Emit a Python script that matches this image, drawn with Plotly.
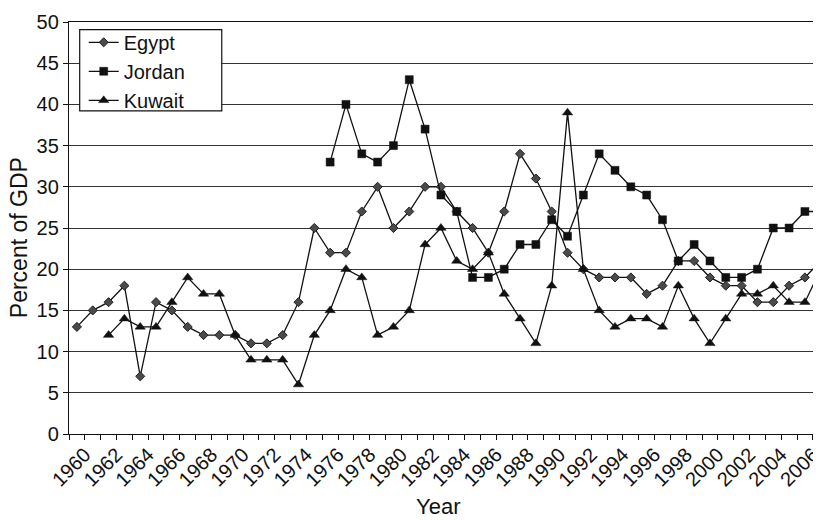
import plotly.graph_objects as go

years = list(range(1960, 2008))

egypt = [13, 15, 16, 18, 7, 16, 15, 13, 12, 12, 12, 11, 11, 12, 16, 25, 22, 22, 27, 30,
         25, 27, 30, 30, 27, 25, 22, 27, 34, 31, 27, 22, 20, 19, 19, 19, 17, 18, 21, 21,
         19, 18, 18, 16, 16, 18, 19, 21]

jordan_years = list(range(1976, 2008))
jordan = [33, 40, 34, 33, 35, 43, 37, 29, 27, 19, 19, 20, 23, 23, 26, 24, 29, 34, 32, 30,
          29, 26, 21, 23, 21, 19, 19, 20, 25, 25, 27, 27]

kuwait_years = list(range(1962, 2008))
kuwait = [12, 14, 13, 13, 16, 19, 17, 17, 12, 9, 9, 9, 6, 12, 15, 20, 19, 12, 13, 15,
          23, 25, 21, 20, 22, 17, 14, 11, 18, 39, 20, 15, 13, 14, 14, 13, 18, 14, 11, 14,
          17, 17, 18, 16, 16, 20]

tick_years = list(range(1960, 2007, 2))
tick_labels = [str(y) for y in tick_years]
y_ticks = list(range(0, 51, 5))

FONT = "Liberation Sans, Arial, sans-serif"

# page body has an 8px margin: work in page pixels and subtract it
OFF = 8
W, H = 821 - OFF, 520 - OFF
L, T = 69.3 - OFF, 21.7 - OFF
BOT = 434.3 - OFF
PW, PH = W - L, BOT - T


def px(xp):
    return (xp - OFF - L) / PW


def py(yp):
    return (BOT - (yp - OFF)) / PH


fig = go.Figure()
fig.add_trace(go.Scatter(
    x=years, y=egypt, name="Egypt", mode="lines+markers",
    line=dict(color="#111111", width=1.3),
    marker=dict(symbol="diamond", size=7, color="#4a4a4a",
                line=dict(color="#222222", width=1)),
    cliponaxis=False))
fig.add_trace(go.Scatter(
    x=jordan_years, y=jordan, name="Jordan", mode="lines+markers",
    line=dict(color="#111111", width=1.3),
    marker=dict(symbol="square", size=8, color="#111111",
                line=dict(color="#111111", width=0.5)),
    cliponaxis=False))
fig.add_trace(go.Scatter(
    x=kuwait_years, y=kuwait, name="Kuwait", mode="lines+markers",
    line=dict(color="#111111", width=1.3),
    marker=dict(symbol="triangle-up", size=9, color="#111111",
                line=dict(color="#111111", width=0.5)),
    cliponaxis=False))

fig.update_layout(
    width=W, height=H,
    margin=dict(l=L, r=0, t=T, b=H - BOT, pad=0, autoexpand=False),
    plot_bgcolor="white", paper_bgcolor="white",
    font=dict(family=FONT, size=20, color="#111111"),
    showlegend=True,
    legend=dict(x=px(84), y=py(22.5), xanchor="left", yanchor="top",
                bgcolor="rgba(0,0,0,0)", borderwidth=0,
                font=dict(size=20, family=FONT, color="#111111"),
                tracegroupgap=0, itemwidth=30),
    xaxis=dict(
        range=[1959.5, 1959.5 + PW / 15.82], automargin=False,
        tickmode="array", tickvals=[y + 0.5 for y in tick_years], ticktext=tick_labels,
        tickangle=-45, ticks="", ticklen=0, ticklabeloverflow="allow",
        tickfont=dict(size=20, family=FONT, color="#111111"),
        showgrid=False, zeroline=False,
        showline=True, linecolor="#111111", linewidth=1.3, mirror=True,
        minor=dict(tickmode="array", tickvals=[y - 0.5 for y in years] + [2007.5],
                   ticks="outside", ticklen=5, tickcolor="#111111", tickwidth=1,
                   showgrid=False),
    ),
    yaxis=dict(
        range=[0, 50], tickmode="array", tickvals=y_ticks, automargin=False,
        ticks="outside", ticklen=5, tickcolor="#111111", tickwidth=1,
        tickfont=dict(size=20, family=FONT, color="#111111"),
        showgrid=True, gridcolor="#333333", gridwidth=1,
        zeroline=False, showline=True, linecolor="#111111", linewidth=1.3,
    ),
    shapes=[
        dict(type="rect", xref="paper", yref="paper",
             x0=px(80), x1=px(222), y0=py(110.7), y1=py(29.3),
             fillcolor="white", line=dict(color="#111111", width=1.2), layer="above"),
    ],
    annotations=[
        dict(text="Percent of GDP", xref="paper", yref="paper",
             x=px(20), y=py(237.5), textangle=-90,
             showarrow=False, xanchor="center", yanchor="middle",
             font=dict(size=23, family=FONT, color="#111111")),
        dict(text="Year", xref="paper", yref="paper",
             x=px(438.5), y=py(507),
             showarrow=False, xanchor="center", yanchor="middle",
             font=dict(size=22, family=FONT, color="#111111")),
    ],
)

fig.write_html("out.html")
